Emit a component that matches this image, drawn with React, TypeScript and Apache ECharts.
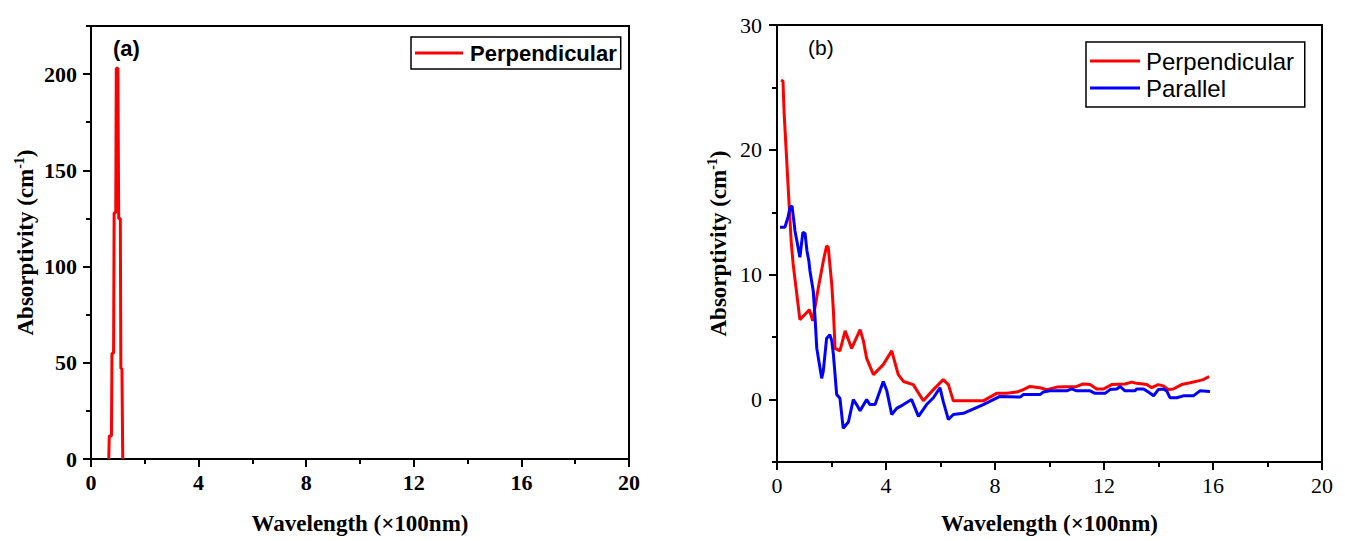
import React, { useEffect, useRef } from "react";
import * as echarts from "echarts";

// Panel (a): perpendicular absorptivity, narrow peak near 100 nm
const peakWave = [0.66, 0.68, 0.76, 0.78, 0.84, 0.86, 0.92, 0.94, 1.0, 1.03, 1.09, 1.11, 1.15, 1.18];
const peakValues = [0, 12, 12, 55, 55, 128, 128, 203, 203, 125, 125, 47, 47, 0];

// Panel (b): perpendicular polarisation
const perpWave = [
  0.15, 0.22, 0.26, 0.35, 0.43, 0.52, 0.59, 0.84, 1.19, 1.31, 1.52, 1.7, 1.82, 1.88, 2.01, 2.07,
  2.13, 2.31, 2.5, 2.74, 3.05, 3.17, 3.29, 3.54, 3.9, 4.21, 4.45, 4.64, 5.0, 5.37, 5.74, 6.1,
  6.29, 6.47, 7.57, 8.06, 8.43, 8.8, 9.04, 9.28, 9.65, 9.9, 10.27, 11.0, 11.24, 11.49, 11.73,
  11.98, 12.28, 12.77, 13.02, 13.2, 13.57, 13.75, 13.99, 14.18, 14.36, 14.54, 14.85, 15.16,
  15.46, 15.64, 15.86,
];
const perpValues = [
  25.6, 25.5, 23.0, 19.4, 16.2, 12.7, 10.9, 6.4, 7.2, 6.3, 9.0, 11.1, 12.3, 12.2, 9.2, 7.1,
  4.1, 3.9, 5.5, 4.1, 5.6, 4.7, 3.3, 2.0, 2.8, 3.9, 2.0, 1.45, 1.2, -0.1, 0.8, 1.6,
  1.2, -0.1, -0.1, 0.5, 0.5, 0.6, 0.8, 1.05, 0.95, 0.8, 1.0, 1.05, 1.25, 1.2, 0.85,
  0.85, 1.2, 1.25, 1.4, 1.3, 1.2, 0.95, 1.2, 1.1, 0.8, 0.85, 1.2, 1.35,
  1.5, 1.6, 1.85,
];

// Panel (b): parallel polarisation
const paraWave = [
  0.11, 0.29, 0.41, 0.48, 0.55, 0.6, 0.66, 0.73, 0.84, 0.95, 1.03, 1.1, 1.17, 1.21, 1.33, 1.39,
  1.46, 1.58, 1.64, 1.7, 1.82, 1.94, 2.01, 2.07, 2.19, 2.31, 2.43, 2.62, 2.8, 2.92, 3.05, 3.29,
  3.41, 3.6, 3.9, 4.03, 4.21, 4.39, 4.64, 4.94, 5.19, 5.49, 5.74, 5.98, 6.1, 6.29, 6.47, 6.84,
  7.57, 8.18, 8.92, 9.04, 9.65, 9.77, 10.02, 10.63, 10.81, 11.0, 11.49, 11.67, 12.04, 12.22,
  12.47, 12.59, 12.77, 13.14, 13.2, 13.45, 13.63, 13.82, 13.99, 14.18, 14.3, 14.42, 14.67,
  14.91, 15.28, 15.52, 15.89,
];
const paraValues = [
  13.8, 13.8, 14.65, 15.4, 15.5, 14.65, 13.5, 12.7, 11.4, 13.4, 13.3, 11.9, 11.1, 10.3, 8.7, 6.8,
  4.1, 2.5, 1.7, 2.3, 4.9, 5.2, 4.7, 3.6, 0.4, 0.1, -2.3, -1.8, 0, -0.4, -0.9, 0,
  -0.4, -0.4, 1.45, 0.7, -1.2, -0.7, -0.4, 0, -1.35, -0.4, 0.15, 0.95, -0.15, -1.6, -1.2, -1.1,
  -0.4, 0.25, 0.2, 0.4, 0.4, 0.6, 0.7, 0.7, 0.85, 0.7, 0.7, 0.5, 0.5, 0.8,
  0.85, 1.05, 0.7, 0.7, 0.85, 0.85, 0.6, 0.3, 0.8, 0.85, 0.7, 0.15, 0.15,
  0.3, 0.3, 0.7, 0.65,
];

const xTicks = [0, 4, 8, 12, 16, 20];
const yTicksA = [0, 50, 100, 150, 200];
const yTicksB = [0, 10, 20, 30];

const SERIF = "'Liberation Serif', 'DejaVu Serif', serif";
const SANS = "'Liberation Sans', Arial, sans-serif";

const pairs = (xs: number[], ys: number[]) => xs.map((x, i) => [x, ys[i]]);

const axisLineStyle = { color: "#000", width: 2 };

const yName = {
  a: { fontFamily: SERIF, fontWeight: "bold", fontSize: 23, color: "#000", lineHeight: 26 },
  s: { fontFamily: SERIF, fontWeight: "bold", fontSize: 14, color: "#000", verticalAlign: "top", lineHeight: 26 },
};

const nameStyle = { fontFamily: SERIF, fontWeight: "bold", fontSize: 23, color: "#000" };

function xAxisFor(grid: number, labelWeight: string, gap: number) {
  return {
    gridIndex: grid,
    type: "value",
    min: 0,
    max: 20,
    interval: 4,
    axisLine: { onZero: false, lineStyle: axisLineStyle },
    axisTick: { length: 8, lineStyle: axisLineStyle },
    minorTick: { show: true, splitNumber: 2, length: 5, lineStyle: axisLineStyle },
    splitLine: { show: false },
    axisLabel: {
      customValues: xTicks,
      fontFamily: SERIF,
      fontWeight: labelWeight,
      fontSize: 22,
      color: "#000",
      margin: 12,
    },
    name: "Wavelength (×100nm)",
    nameLocation: "middle",
    nameGap: gap,
    nameTextStyle: nameStyle,
  };
}

export default function App() {
  const ref = useRef<HTMLDivElement>(null);

  useEffect(() => {
    document.body.style.margin = "0";
    const chart = echarts.init(ref.current!, null, { renderer: "svg" });
    const option: any = {
      animation: false,
      backgroundColor: "#fff",
      grid: [
        { left: 91, top: 26, width: 538, height: 433, show: true, borderColor: "#000", borderWidth: 2 },
        { left: 777, top: 25, width: 545, height: 437, show: true, borderColor: "#000", borderWidth: 2 },
      ],
      xAxis: [xAxisFor(0, "bold", 53), xAxisFor(1, "normal", 50)],
      yAxis: [
        // panel (a): minor ticks every 25
        {
          gridIndex: 0,
          type: "value",
          min: 0,
          max: 225,
          interval: 25,
          axisLine: { show: true, lineStyle: axisLineStyle },
          axisTick: { length: 5, lineStyle: axisLineStyle },
          axisLabel: { show: false },
          splitLine: { show: false },
        },
        // panel (a): major ticks and labels
        {
          gridIndex: 0,
          type: "value",
          position: "left",
          min: 0,
          max: 225,
          axisLine: { show: false },
          axisTick: { length: 8, lineStyle: axisLineStyle, customValues: yTicksA },
          axisLabel: {
            customValues: yTicksA,
            fontFamily: SERIF,
            fontWeight: "bold",
            fontSize: 22,
            color: "#000",
            margin: 14,
          },
          splitLine: { show: false },
          name: "{a|Absorptivity (cm}{s|-1}{a|)}",
          nameLocation: "middle",
          nameGap: 53,
          nameRotate: 90,
          nameTextStyle: { rich: yName },
        },
        // panel (b): minor ticks every 5
        {
          gridIndex: 1,
          type: "value",
          min: -5,
          max: 30,
          interval: 5,
          axisLine: { show: true, onZero: false, lineStyle: axisLineStyle },
          axisTick: { length: 5, lineStyle: axisLineStyle },
          axisLabel: { show: false },
          splitLine: { show: false },
        },
        // panel (b): major ticks and labels
        {
          gridIndex: 1,
          type: "value",
          position: "left",
          min: -5,
          max: 30,
          axisLine: { show: false },
          axisTick: { length: 8, lineStyle: axisLineStyle, customValues: yTicksB },
          axisLabel: {
            customValues: yTicksB,
            fontFamily: SERIF,
            fontSize: 22,
            color: "#000",
            margin: 15,
          },
          splitLine: { show: false },
          name: "{a|Absorptivity (cm}{s|-1}{a|)}",
          nameLocation: "middle",
          nameGap: 46,
          nameRotate: 90,
          nameTextStyle: { rich: yName },
        },
      ],
      legend: [
        {
          data: ["Perpendicular"],
          left: 411,
          top: 37,
          orient: "horizontal",
          icon: "rect",
          padding: [5, 4, 5, 4],
          itemWidth: 48,
          itemHeight: 3,
          borderColor: "#000",
          borderWidth: 1.5,
          borderRadius: 0,
          textStyle: { fontFamily: SANS, fontWeight: "bold", fontSize: 22, color: "#000", padding: [0, 0, 0, 2] },
        },
        {
          data: ["Perpendicular ", "Parallel"],
          left: 1086,
          top: 42,
          orient: "vertical",
          icon: "rect",
          padding: [7, 4, 7, 4],
          itemGap: 3,
          itemWidth: 50,
          itemHeight: 3,
          borderColor: "#000",
          borderWidth: 1.5,
          borderRadius: 0,
          textStyle: { fontFamily: SANS, fontSize: 24, color: "#000", padding: [0, 0, 0, 1] },
        },
      ],
      graphic: [
        {
          type: "text",
          left: 113,
          top: 37,
          style: { text: "(a)", font: `bold 22px ${SANS}`, fill: "#000" },
        },
        {
          type: "text",
          left: 808,
          top: 37,
          style: { text: "(b)", font: `21px ${SANS}`, fill: "#000" },
        },
      ],
      series: [
        {
          name: "Perpendicular",
          type: "line",
          xAxisIndex: 0,
          yAxisIndex: 0,
          data: pairs(peakWave, peakValues),
          symbol: "none",
          lineStyle: { color: "#ff0000", width: 3 },
          itemStyle: { color: "#ff0000" },
        },
        {
          name: "Perpendicular ",
          type: "line",
          xAxisIndex: 1,
          yAxisIndex: 2,
          data: pairs(perpWave, perpValues),
          symbol: "none",
          lineStyle: { color: "#ff0000", width: 3 },
          itemStyle: { color: "#ff0000" },
        },
        {
          name: "Parallel",
          type: "line",
          xAxisIndex: 1,
          yAxisIndex: 2,
          data: pairs(paraWave, paraValues),
          symbol: "none",
          lineStyle: { color: "#0000ff", width: 3 },
          itemStyle: { color: "#0000ff" },
        },
      ],
    };
    chart.setOption(option);
    return () => chart.dispose();
  }, []);

  return <div ref={ref} style={{ width: 1345, height: 541 }} />;
}
